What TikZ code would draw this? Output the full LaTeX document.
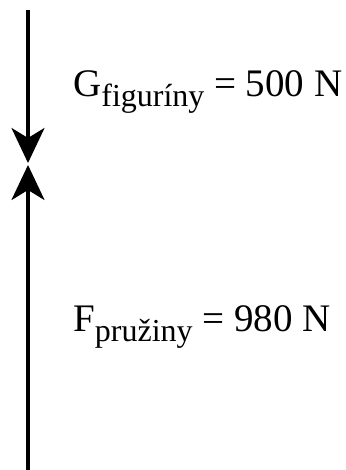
\documentclass[tikz,border=0pt]{standalone}
\usepackage{fontspec}
\setmainfont{Liberation Serif}
\usepackage{tikz}
\usetikzlibrary{arrows.meta,positioning}

\newcommand{\lowsub}[1]{\raisebox{-10pt}{\fontsize{32}{35}\selectfont #1}}

\begin{document}
\begin{tikzpicture}[
    x=1pt, y=1pt,
    force/.style={-{Stealth[length=35pt, width=33pt, inset=10pt]}, line width=3.5pt},
    label/.style={anchor=base west, inner sep=0pt, font=\fontsize{39}{43}\selectfont}
]
\useasboundingbox (0,0) rectangle (345,470);
\coordinate (top) at (28,460);
\coordinate (meetG) at (28,307);
\coordinate (meetF) at (28,305);
\coordinate (bottom) at (28,0);

\node[label] (gtext) at (73,373) {G\lowsub{figuríny} = 500 N};
\node[label] (ftext) at (73,138) {F\lowsub{pružiny} = 980 N};

\draw[force] (top) -- (meetG);
\draw[force] (bottom) -- (meetF);
\end{tikzpicture}
\end{document}
